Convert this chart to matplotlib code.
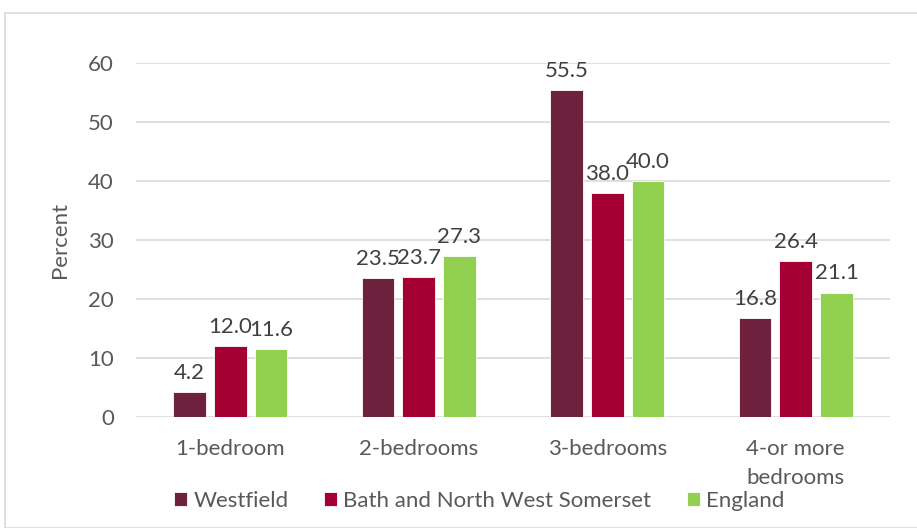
import matplotlib
matplotlib.use("Agg")
import matplotlib.pyplot as plt
import numpy as np
from matplotlib.patches import Rectangle

categories = ["1-bedroom", "2-bedrooms", "3-bedrooms", "4-or more\nbedrooms"]
series_names = ["Westfield", "Bath and North West Somerset", "England"]
westfield = [4.2, 23.5, 55.5, 16.8]
bath = [12.0, 23.7, 38.0, 26.4]
england = [11.6, 27.3, 40.0, 21.1]
yticks = [0, 10, 20, 30, 40, 50, 60]

colors = ["#6D213C", "#A50034", "#92D050"]
txt = "#595959"
fs = 16
plt.rcParams['font.family'] = ['Lato', 'DejaVu Sans']

fig = plt.figure(figsize=(9.17, 5.28), dpi=100)
fig.patches.append(Rectangle((5/917, 0), 1.2, 1 - 13/528, transform=fig.transFigure,
                             fill=False, edgecolor="#D9D9D9", linewidth=1.2))
ax = fig.add_axes([136/917, 1 - 417/528, (890 - 136)/917, (417 - 63)/528])

x = np.arange(len(categories))
w = 0.174
step = 0.216
for i, (vals, name, c) in enumerate(zip([westfield, bath, england], series_names, colors)):
    bars = ax.bar(x + (i - 1) * step, vals, w, color=c, label=name,
                  edgecolor="white", linewidth=0.6, zorder=3)
    for b, v in zip(bars, vals):
        ax.annotate(f"{v:.1f}", (b.get_x() + b.get_width() / 2, v), xytext=(0, 6.5),
                    textcoords="offset points", ha="center", va="bottom",
                    fontsize=fs, color="#404040")

ax.set_xlim(-0.5, 3.5)
ax.set_ylim(0, 60)
ax.set_yticks(yticks)
ax.set_xticks(x)
ax.set_xticklabels(categories, linespacing=1.55)
ax.tick_params(axis="both", length=0, labelsize=fs, colors=txt)
ax.tick_params(axis="y", pad=16)
ax.tick_params(axis="x", pad=16)
ax.grid(axis="y", color="#D9D9D9", linewidth=1.2, zorder=0)
for s in ax.spines.values():
    s.set_visible(False)
ax.set_ylabel("Percent", fontsize=fs, color=txt, labelpad=13)

handles, labels = ax.get_legend_handles_labels()
leg = fig.legend(handles, labels, loc="center left", bbox_to_anchor=(174/917, 1 - 501/528),
                 ncol=3, frameon=False, fontsize=fs, handlelength=0.6, handleheight=0.6,
                 handletextpad=0.27, columnspacing=1.6, borderpad=0, borderaxespad=0)
for t in leg.get_texts():
    t.set_color(txt)

fig.savefig("out.png", dpi=100)
